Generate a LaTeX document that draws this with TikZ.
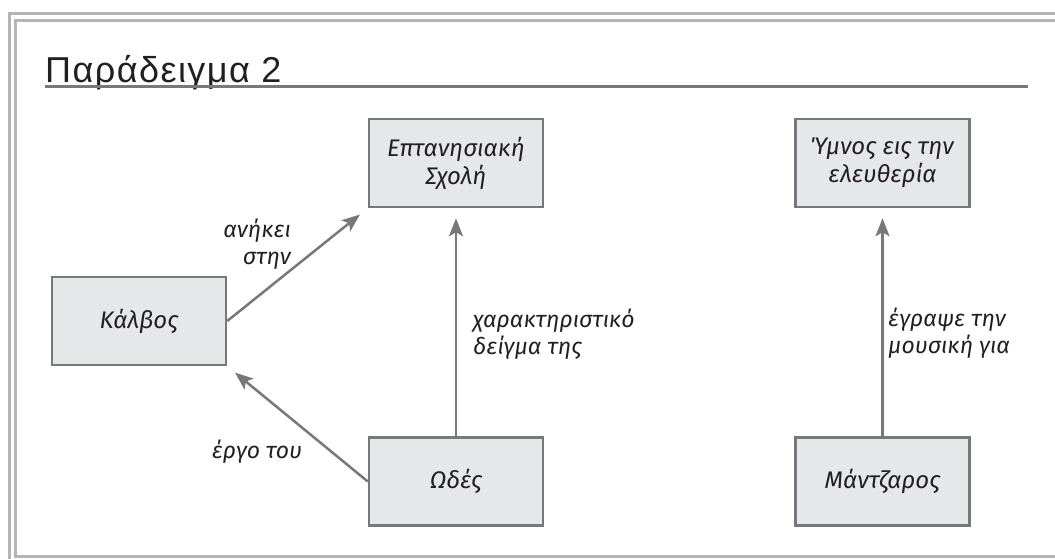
\documentclass[tikz,border=0pt]{standalone}
\usepackage{fontspec}
\usepackage{tikz}
\usetikzlibrary{arrows.meta,positioning}

\newfontfamily\handfont{Fira Sans}
\newfontfamily\titlefont{Liberation Sans}[LetterSpace=4]
\definecolor{boxgray}{HTML}{E6E7E8}
\definecolor{linegray}{HTML}{77787B}
\definecolor{framegray}{HTML}{B3B5B8}
\definecolor{inkgray}{HTML}{231F20}

\begin{document}
\begin{tikzpicture}[
        x=1pt, y=-1pt,
        node distance=228pt and 250pt,
        box/.style={draw=linegray, fill=boxgray, line width=2.5pt, align=center, minimum width=174pt, minimum height=88pt, text=inkgray, font=\handfont\itshape\fontsize{24}{28}\selectfont},
        note/.style={inner sep=0pt, text=inkgray, font=\handfont\itshape\fontsize{23}{27}\selectfont},
        arrow/.style={-{Stealth[length=18pt, width=14pt, inset=4pt]}, draw=linegray, line width=2.5pt, shorten >=10pt},
        frame/.style={draw=framegray, line width=3pt}
    ]
        \useasboundingbox (0,0) rectangle (1055,559);
        \clip (0,0) rectangle (1055,559);

        \draw[frame] (9,580) -- (9,13.5) -- (1080,13.5);
        \draw[frame] (1080,21) -- (15.5,21) -- (15.5,556.5) -- (1080,556.5);

        \node[anchor=base west, inner sep=0pt, text=inkgray, font=\titlefont\fontsize{36}{40}\selectfont] (title) at (45,83) {Παράδειγμα 2};
        \draw[draw=linegray, line width=3pt] (45,87) -- (1028,87);

        \node[box] (epta) at (456,163) {Επτανησιακή\\Σχολή};
        \node[box, below=of epta] (odes) {Ωδές};
        \node[box, right=of epta] (ymnos) {Ύμνος εις την\\ελευθερία};
        \node[box, below=of ymnos] (mantzaros) {Μάντζαρος};
        \node[box] (kalvos) at (139,321) {Κάλβος};

        \draw[arrow] (kalvos.east) -- (epta.south west);
        \draw[arrow] (odes.north) -- (epta.south);
        \draw[arrow] (odes.west) -- (kalvos.south east);
        \draw[arrow] (mantzaros.north) -- (ymnos.south);

        \node[note, align=right, anchor=east] (belongs) at (291,244) {ανήκει\\στην};
        \node[note, align=left, anchor=west] (sample) at (473,334) {χαρακτηριστικό\\δείγμα της};
        \node[note] (work) at (257,452) {έργο του};
        \node[note, align=left, anchor=west] (music) at (888,333) {έγραψε την\\μουσική για};
    \end{tikzpicture}
\end{document}
